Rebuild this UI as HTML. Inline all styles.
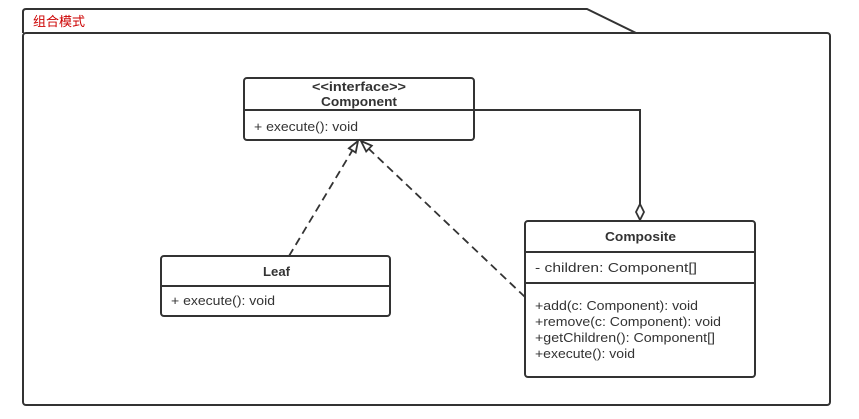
<!DOCTYPE html>
<html><head><meta charset="utf-8"><style>
html,body{margin:0;padding:0;background:#fff;width:859px;height:419px;overflow:hidden}
text{font-family:"Liberation Sans","Noto Sans CJK SC",sans-serif;fill:#333;font-size:13px}
</style></head><body>
<svg width="859" height="419" viewBox="0 0 859 419" xmlns="http://www.w3.org/2000/svg">
<g fill="none" stroke="#333" stroke-width="2">
<path d="M23,33 L23,12 Q23,9 26,9 L587,9 L636,33"/>
<rect x="23" y="33" width="807" height="372" rx="3"/>
<rect x="244" y="78" width="230" height="62" rx="3"/>
<line x1="244" y1="110" x2="474" y2="110"/>
<rect x="161" y="256" width="229" height="60" rx="3"/>
<line x1="161" y1="286" x2="390" y2="286"/>
<rect x="525" y="221" width="230" height="156" rx="3"/>
<line x1="525" y1="252" x2="755" y2="252"/>
<line x1="525" y1="283" x2="755" y2="283"/>
<path d="M474,110 L640,110 L640,204"/>
</g>
<g fill="none" stroke="#333" stroke-width="1.8">
<path d="M640,204 L644,212 L640,220 L636,212 Z" fill="#fff"/>
<line x1="289" y1="256" x2="352" y2="151" stroke-dasharray="8,5"/>
<line x1="525" y1="297" x2="369" y2="149" stroke-dasharray="8,5"/>
<path d="M358,141 L355.7,152.5 L348.9,148.3 Z" fill="#fff"/>
<path d="M361,141 L371.8,145.7 L366.2,151.5 Z" fill="#fff"/>
</g>
<text x="33" y="26" style="fill:#c00">组合模式</text>
<text x="312" y="91" font-weight="bold" textLength="94" lengthAdjust="spacingAndGlyphs">&lt;&lt;interface&gt;&gt;</text>
<text x="321" y="106" font-weight="bold" textLength="76" lengthAdjust="spacingAndGlyphs">Component</text>
<text x="254" y="131" textLength="104" lengthAdjust="spacingAndGlyphs">+ execute(): void</text>
<text x="263" y="276" font-weight="bold" textLength="27" lengthAdjust="spacingAndGlyphs">Leaf</text>
<text x="171" y="305" textLength="104" lengthAdjust="spacingAndGlyphs">+ execute(): void</text>
<text x="605" y="241" font-weight="bold" textLength="71" lengthAdjust="spacingAndGlyphs">Composite</text>
<text x="535" y="272" textLength="162" lengthAdjust="spacingAndGlyphs">- children: Component[]</text>
<text x="535" y="310" textLength="163" lengthAdjust="spacingAndGlyphs">+add(c: Component): void</text>
<text x="535" y="326" textLength="186" lengthAdjust="spacingAndGlyphs">+remove(c: Component): void</text>
<text x="535" y="342" textLength="180" lengthAdjust="spacingAndGlyphs">+getChildren(): Component[]</text>
<text x="535" y="358" textLength="100" lengthAdjust="spacingAndGlyphs">+execute(): void</text>
</svg>
</body></html>
